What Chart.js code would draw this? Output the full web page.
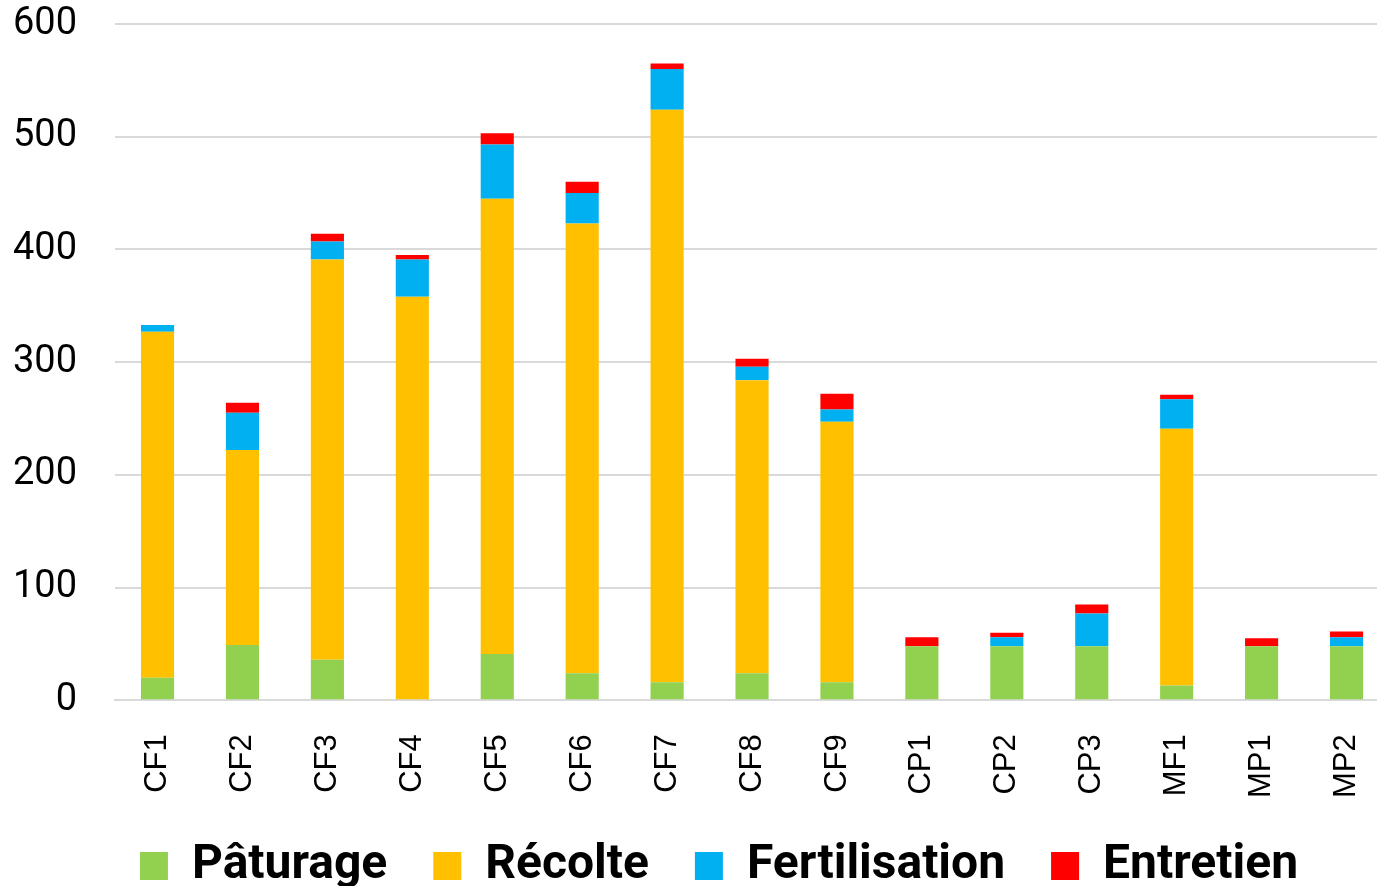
<!DOCTYPE html>
<html>
<head>
<meta charset="UTF-8">
<title>Répartition</title>
<script src="https://cdn.jsdelivr.net/npm/chart.js"></script>
<style>
  html, body { margin: 0; padding: 0; background: #fff; overflow: hidden; }
  #wrap { width: 1389px; height: 886px; }
</style>
</head>
<body>
<div id="wrap"><canvas id="chart"></canvas></div>
<script>
// Data
const categories = ['CF1', 'CF2', 'CF3', 'CF4', 'CF5', 'CF6', 'CF7', 'CF8', 'CF9', 'CP1', 'CP2', 'CP3', 'MF1', 'MP1', 'MP2'];
const paturage      = [20, 49, 36, 0, 41, 24, 16, 24, 16, 48, 48, 48, 13, 48, 48];
const recolte       = [307, 173, 355, 358, 404, 399, 508, 260, 231, 0, 0, 0, 228, 0, 0];
const fertilisation = [6, 33, 16, 33, 48, 27, 36, 12, 11, 0, 8, 29, 26, 0, 8];
const entretien     = [0, 9, 7, 4, 10, 10, 5, 7, 14, 8, 4, 8, 4, 7, 5];
const yTicks = [0, 100, 200, 300, 400, 500, 600];

// legend: take less room under the axis and sit a bit to the right, like the original
const tweakLegend = {
  id: 'tweakLegend',
  beforeLayout(chart) {
    const lg = chart.legend;
    if (lg && !lg._tweaked) {
      const fit = lg.fit.bind(lg);
      lg.fit = function () { fit(); this.height -= 28; };
      lg._tweaked = true;
    }
  },
  afterLayout(chart) {
    const lg = chart.legend;
    lg.left += 37;
    lg.right += 37;
    lg.top -= 28;
    lg.height += 28;
  }
};

const ctx = document.getElementById('chart').getContext('2d');
const chart = new Chart(ctx, {
  type: 'bar',
  data: {
    labels: categories,
    datasets: [
      { label: 'Pâturage', data: paturage, backgroundColor: '#92d050' },
      { label: 'Récolte', data: recolte, backgroundColor: '#ffc000' },
      { label: 'Fertilisation', data: fertilisation, backgroundColor: '#00b0f0' },
      { label: 'Entretien', data: entretien, backgroundColor: '#ff0000' }
    ]
  },
  plugins: [tweakLegend],
  options: {
    responsive: true,
    maintainAspectRatio: false,
    animation: false,
    datasets: {
      bar: { categoryPercentage: 1, barPercentage: 0.39 }
    },
    layout: { padding: { top: 0, right: 0, left: -25, bottom: -14 } },
    plugins: {
      tooltip: { enabled: false },
      legend: {
        position: 'bottom',
        labels: {
          color: '#000',
          boxWidth: 28,
          boxHeight: 28,
          padding: 46,
          font: { family: 'Roboto', size: 48, weight: 'bold' }
        }
      }
    },
    scales: {
      x: {
        stacked: true,
        grid: { display: false },
        border: { color: '#d9d9d9', width: 2 },
        ticks: {
          color: '#000',
          minRotation: 90,
          maxRotation: 90,
          padding: 26,
          font: { family: 'Liberation Sans', size: 31 }
        },
        afterFit(axis) {
          axis.paddingRight = 0;
        }
      },
      y: {
        stacked: true,
        min: 0,
        max: 600,
        afterBuildTicks: axis => { axis.ticks = yTicks.map(v => ({ value: v })); },
        grid: { color: '#d9d9d9', lineWidth: 2, drawTicks: false },
        border: { display: false },
        ticks: {
          color: '#000',
          padding: 38,
          font: { family: 'Roboto', size: 38 }
        },
        afterFit(axis) {
          axis.paddingTop = 24;
        }
      }
    }
  }
});
</script>
</body>
</html>
